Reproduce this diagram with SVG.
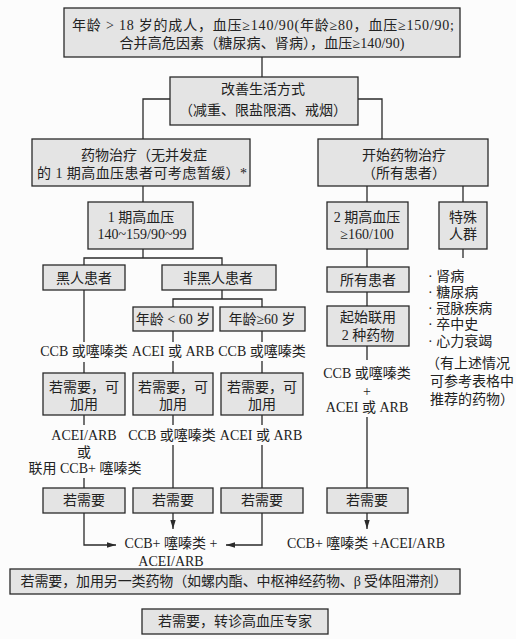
<svg xmlns="http://www.w3.org/2000/svg" width="516" height="639" viewBox="0 0 516 639">
<style>
.b{fill:#e4e4e4;stroke:#2a2a2a;stroke-width:1.3}
.t{font-family:"Liberation Serif","Noto Sans CJK SC",serif;font-size:14px;fill:#222;text-anchor:middle}
.s{text-anchor:start}
.l{stroke:#2a2a2a;stroke-width:1.3;fill:none}
</style>
<defs>
<marker id="a" viewBox="0 0 10 6" refX="10" refY="3" markerWidth="9" markerHeight="5.5" orient="auto" markerUnits="userSpaceOnUse"><path d="M0,0 L10,3 L0,6 Z" fill="#2a2a2a"/></marker>
</defs>
<rect width="516" height="639" fill="#fcfcfc"/>
<g id="connectors">
<path class="l" d="M262,57 V77"/>
<path class="l" d="M170,99 H143 V139"/>
<path class="l" d="M358,99 H382 V139"/>
<path class="l" d="M143,186 V202"/>
<path class="l" d="M367,186 V202"/>
<path class="l" d="M463,186 V202"/>
<path class="l" d="M143,249 V258 M84,265 V258 H222 V265"/>
<path class="l" d="M84,290 V342"/>
<path class="l" d="M222,290 V299 M173,307 V299 H262 V307"/>
<path class="l" d="M173,331 V342 M262,331 V342"/>
<path class="l" d="M84,362 V373 M173,361 V373 M262,361 V373"/>
<path class="l" d="M84,415 V425 M173,415 V425 M262,415 V425"/>
<path class="l" d="M84,478 V488 M173,445 V488 M262,445 V488"/>
<path class="l" d="M84,513 V545 H116" marker-end="url(#a)"/>
<path class="l" d="M173,513 V529" marker-end="url(#a)"/>
<path class="l" d="M262,513 V545 H226" marker-end="url(#a)"/>
<path class="l" d="M367,249 V267 M367,292 V306 M367,346 V360 M367,417 V488"/>
<path class="l" d="M367,513 V529" marker-end="url(#a)"/>
<path class="l" d="M463,249 V258"/>
</g>
<g id="n1"><rect class="b" x="64" y="8" width="396" height="49"/>
<text class="t" x="263" y="30" textLength="382">年龄 &gt; 18 岁的成人，血压≥140/90(年龄≥80，血压≥150/90;</text>
<text class="t" x="262" y="48" textLength="285">合并高危因素（糖尿病、肾病），血压≥140/90)</text></g>
<g id="n2"><rect class="b" x="170" y="77" width="188" height="48"/>
<text class="t" x="263" y="94">改善生活方式</text>
<text class="t" x="263" y="115">（减重、限盐限酒、戒烟）</text></g>
<g id="n3"><rect class="b" x="32" y="139" width="218" height="47"/>
<text class="t" x="144" y="160">药物治疗（无并发症</text>
<text class="t" x="142" y="178" textLength="210">的 1 期高血压患者可考虑暂缓）*</text></g>
<g id="n4"><rect class="b" x="318" y="139" width="170" height="47"/>
<text class="t" x="404" y="160">开始药物治疗</text>
<text class="t" x="404" y="178">（所有患者）</text></g>
<g id="n5"><rect class="b" x="88" y="202" width="105" height="47"/>
<text class="t" x="141" y="222">1 期高血压</text>
<text class="t" x="142" y="239">140~159/90~99</text></g>
<g id="n6"><rect class="b" x="327" y="202" width="81" height="47"/>
<text class="t" x="367" y="222">2 期高血压</text>
<text class="t" x="367" y="239">≥160/100</text></g>
<g id="n7"><rect class="b" x="439" y="202" width="48" height="47"/>
<text class="t" x="463" y="222">特殊</text>
<text class="t" x="463" y="239">人群</text></g>
<g id="n8"><rect class="b" x="43" y="265" width="82" height="25"/>
<text class="t" x="84" y="283">黑人患者</text></g>
<g id="n9"><rect class="b" x="162" y="265" width="114" height="25"/>
<text class="t" x="218" y="283">非黑人患者</text></g>
<g id="n10"><rect class="b" x="133" y="307" width="80" height="24"/>
<text class="t" x="173" y="324">年龄 &lt; 60 岁</text></g>
<g id="n11"><rect class="b" x="220" y="307" width="85" height="24"/>
<text class="t" x="262" y="324">年龄≥60 岁</text></g>
<g id="n12"><rect class="b" x="327" y="267" width="82" height="25"/>
<text class="t" x="368" y="285">所有患者</text></g>
<g id="n13"><rect class="b" x="327" y="306" width="82" height="40"/>
<text class="t" x="368" y="322">起始联用</text>
<text class="t" x="368" y="340">2 种药物</text></g>
<g id="r1"><text class="t" x="84" y="356">CCB 或噻嗪类</text></g>
<g id="r2"><text class="t" x="173" y="356">ACEI 或 ARB</text></g>
<g id="r3"><text class="t" x="262" y="356">CCB 或噻嗪类</text></g>
<g id="n14"><rect class="b" x="43" y="373" width="82" height="42"/>
<text class="t" x="84" y="392">若需要，可</text>
<text class="t" x="84" y="409">加用</text></g>
<g id="n15"><rect class="b" x="133" y="373" width="80" height="42"/>
<text class="t" x="173" y="392">若需要，可</text>
<text class="t" x="173" y="409">加用</text></g>
<g id="n16"><rect class="b" x="221" y="373" width="82" height="42"/>
<text class="t" x="262" y="392">若需要，可</text>
<text class="t" x="262" y="409">加用</text></g>
<g id="r4"><text class="t" x="84" y="440">ACEI/ARB</text>
<text class="t" x="84" y="457">或</text>
<text class="t" x="85" y="473">联用 CCB+ 噻嗪类</text></g>
<g id="r5"><text class="t" x="172" y="440">CCB 或噻嗪类</text></g>
<g id="r6"><text class="t" x="261" y="440">ACEI 或 ARB</text></g>
<g id="r7"><text class="t" x="367" y="378">CCB 或噻嗪类</text>
<text class="t" x="367" y="396">+</text>
<text class="t" x="367" y="412">ACEI 或 ARB</text></g>
<g id="n17"><rect class="b" x="43" y="488" width="82" height="25"/>
<text class="t" x="84" y="505">若需要</text></g>
<g id="n18"><rect class="b" x="133" y="488" width="80" height="25"/>
<text class="t" x="173" y="505">若需要</text></g>
<g id="n19"><rect class="b" x="221" y="488" width="82" height="25"/>
<text class="t" x="262" y="505">若需要</text></g>
<g id="n20"><rect class="b" x="327" y="488" width="81" height="25"/>
<text class="t" x="367" y="505">若需要</text></g>
<g id="r8"><text class="t" x="171" y="548">CCB+ 噻嗪类 +</text>
<text class="t" x="171" y="566">ACEI/ARB</text></g>
<g id="r9"><text class="t" x="366" y="548">CCB+ 噻嗪类 +ACEI/ARB</text></g>
<g id="special">
<text class="t s" x="428" y="281">· 肾病</text>
<text class="t s" x="428" y="297">· 糖尿病</text>
<text class="t s" x="428" y="313">· 冠脉疾病</text>
<text class="t s" x="428" y="329">· 卒中史</text>
<text class="t s" x="428" y="346">· 心力衰竭</text>
<text class="t s" x="426" y="368">（有上述情况</text>
<text class="t s" x="430" y="386">可参考表格中</text>
<text class="t s" x="430" y="404">推荐的药物）</text>
</g>
<g id="n21"><rect class="b" x="10" y="569" width="450" height="25"/>
<text class="t" x="234" y="586" textLength="427">若需要，加用另一类药物（如螺内酯、中枢神经药物、β 受体阻滞剂）</text></g>
<g id="n22"><rect class="b" x="142" y="609" width="186" height="25"/>
<text class="t" x="235" y="626">若需要，转诊高血压专家</text></g>
</svg>
